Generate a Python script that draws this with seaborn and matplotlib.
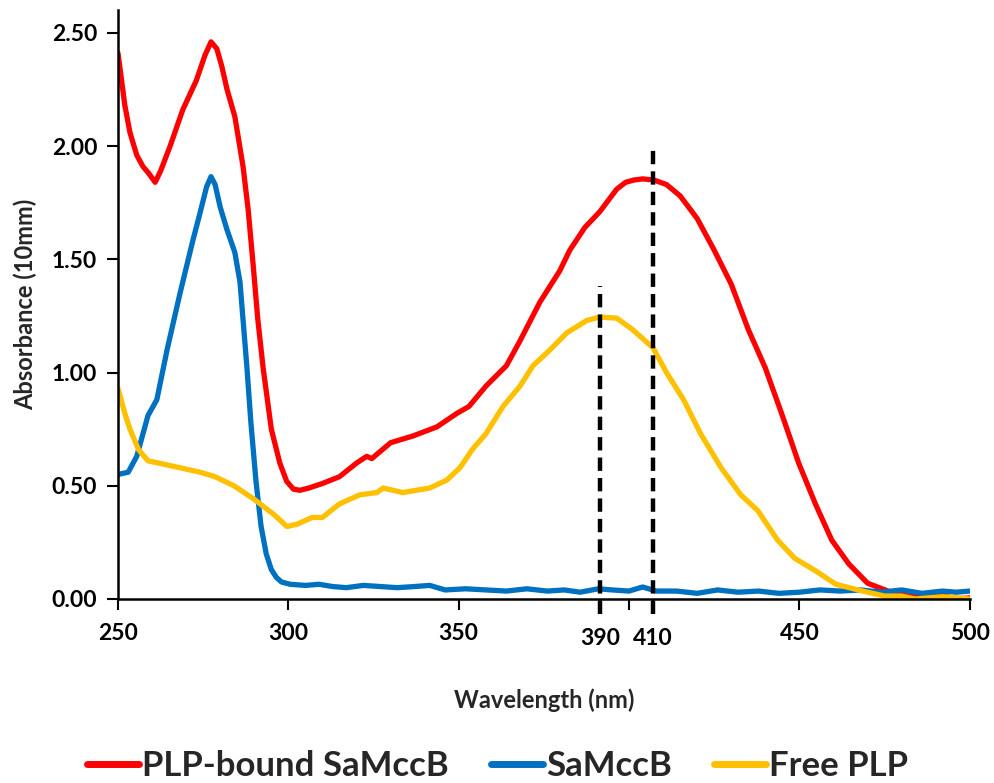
import numpy as np
import matplotlib.pyplot as plt
import seaborn as sns

# Wavelength (nm) / absorbance
plp_bound_wl = [250, 252, 253.5, 255.5, 257.3, 259, 260.9, 262.5, 265.3, 269, 273, 275.5, 277.3,
                279, 280.5, 282, 284.3, 286.7, 288.2, 289.7, 291, 292.6, 295, 297.5, 299.5,
                301.5, 303.4, 306, 310, 315, 320, 323, 324.5, 330, 336.6, 343.6, 349.5, 353,
                358, 364, 368, 373.8, 379.7, 382.6, 387, 391.4, 396.4, 399, 401.4, 404, 407.3,
                411, 415, 420, 425, 430, 435, 440, 445, 449.8, 454.7, 459.5, 464.5, 470, 476,
                482, 488, 492, 496, 500]
plp_bound_abs = [2.41, 2.18, 2.06, 1.96, 1.91, 1.88, 1.84, 1.89, 2.0, 2.16, 2.29, 2.40, 2.46,
                 2.43, 2.35, 2.25, 2.13, 1.91, 1.72, 1.47, 1.24, 1.02, 0.75, 0.60, 0.52,
                 0.485, 0.48, 0.49, 0.51, 0.54, 0.60, 0.63, 0.62, 0.69, 0.72, 0.76, 0.82, 0.85,
                 0.94, 1.03, 1.14, 1.31, 1.45, 1.54, 1.64, 1.71, 1.81, 1.84, 1.85, 1.855, 1.85,
                 1.83, 1.78, 1.68, 1.54, 1.39, 1.19, 1.02, 0.81, 0.60, 0.42, 0.26, 0.155,
                 0.07, 0.035, 0.013, 0.01, 0.015, 0.0, 0.005]

samccb_wl = [250, 253, 255.5, 258.8, 261.4, 264.4, 268.2, 272, 274, 276, 277.3, 278.5, 280,
             282, 284.3, 285.8, 287.8, 289, 290.5, 292, 293.5, 295, 296.5, 298, 300.5, 305, 309,
             313, 317, 322, 327, 332, 337, 341.5, 346, 352, 358, 364, 370, 376, 381, 385.6,
             391, 395, 400, 404, 408, 414, 420, 426, 432, 438, 444, 450, 456, 462, 468, 474,
             480, 486, 492, 496, 500]
samccb_abs = [0.55, 0.56, 0.63, 0.81, 0.88, 1.10, 1.35, 1.585, 1.70, 1.82, 1.865, 1.83, 1.73,
              1.63, 1.53, 1.40, 1.03, 0.78, 0.52, 0.32, 0.20, 0.13, 0.095, 0.075, 0.065, 0.06,
              0.065, 0.055, 0.05, 0.06, 0.055, 0.05, 0.055, 0.06, 0.04, 0.045, 0.04, 0.035,
              0.045, 0.035, 0.04, 0.03, 0.045, 0.04, 0.035, 0.053, 0.035, 0.035, 0.025, 0.04,
              0.03, 0.035, 0.025, 0.03, 0.04, 0.035, 0.04, 0.03, 0.04, 0.025, 0.035, 0.03, 0.035]

free_plp_wl = [250, 252, 253.5, 256, 258.8, 262, 268, 274, 278.5, 284, 290, 296, 299.6, 302.5,
               307, 310, 315, 321, 326, 327.8, 333.6, 341.5, 346.5, 350.4, 354, 358, 363, 368,
               371.8, 376.8, 381.7, 387.6, 391.4, 396.4, 401, 407, 411, 416, 421, 427, 432.8,
               437.8, 443.6, 448.6, 454.7, 460.7, 468.6, 475, 480, 484, 488, 492, 497, 500]
free_plp_abs = [0.93, 0.82, 0.75, 0.66, 0.61, 0.60, 0.58, 0.56, 0.54, 0.50, 0.44, 0.37, 0.32,
                0.33, 0.36, 0.36, 0.42, 0.46, 0.47, 0.49, 0.47, 0.49, 0.525, 0.58, 0.66, 0.73,
                0.85, 0.94, 1.03, 1.10, 1.175, 1.23, 1.245, 1.24, 1.19, 1.11, 1.00, 0.88, 0.73,
                0.58, 0.46, 0.39, 0.26, 0.18, 0.125, 0.065, 0.035, 0.013, 0.013, 0.0, 0.005,
                0.01, 0.005, 0.0]

series_names = ['PLP-bound SaMccB', 'SaMccB', 'Free PLP']
series_colors = ['#FF0000', '#0070C0', '#FFC000']

# dashed markers for the absorbance maxima
marker_wl = [391.5, 407]
marker_top = [1.38, 2.01]

xtick_pos = [250, 300, 350, 391.5, 400, 407, 450, 500]
xtick_lab = ['250', '300', '350', '390', '', '410', '450', '500']
ytick_pos = [0, 0.5, 1.0, 1.5, 2.0, 2.5]

sns.set_style('ticks')
plt.rcParams['font.family'] = ['Lato', 'DejaVu Sans']
plt.rcParams['font.weight'] = 'bold'

fig = plt.figure(figsize=(9.95, 7.83), dpi=100)
ax = fig.add_axes([0.1186, 0.235, 0.856, 0.752])

all_wl = [plp_bound_wl, samccb_wl, free_plp_wl]
all_abs = [plp_bound_abs, samccb_abs, free_plp_abs]
for wl, ab, name, col in zip(all_wl, all_abs, series_names, series_colors):
    sns.lineplot(x=wl, y=ab, color=col, linewidth=3.8, label=name, ax=ax,
                 sort=False, solid_capstyle='round', solid_joinstyle='round')

ax.vlines(marker_wl, -0.065, marker_top, colors='black', linestyles=(0, (3, 1.6)),
          linewidth=3.2, clip_on=False, zorder=5)

ax.set_xlim(250, 500)
ax.set_ylim(0, 2.6)
ax.set_xticks(xtick_pos)
ax.set_xticklabels(xtick_lab)
ax.set_yticks(ytick_pos)
ax.set_yticklabels([f'{v:.2f}' for v in ytick_pos])
ax.tick_params(axis='both', direction='out', length=8, width=1.5, labelsize=16.5, colors='black')
ax.tick_params(axis='x', pad=9)
ax.tick_params(axis='y', pad=7)
for i in (3, 5):
    ax.xaxis.get_major_ticks()[i].set_pad(13)

for s in ['top', 'right']:
    ax.spines[s].set_visible(False)
for s in ['left', 'bottom']:
    ax.spines[s].set_linewidth(1.8)
    ax.spines[s].set_color('black')

ax.set_xlabel('Wavelength (nm)', fontsize=17, fontweight='bold', labelpad=28)
ax.set_ylabel('Absorbance (10mm)', fontsize=17, fontweight='bold', labelpad=10)

leg = ax.legend(loc='center', bbox_to_anchor=(0.5, 0.022), bbox_transform=fig.transFigure,
                ncol=3, frameon=False, fontsize=25, handlelength=1.5, handletextpad=0.1,
                columnspacing=1.2)
for line in leg.get_lines():
    line.set_linewidth(5)
for t in leg.get_texts():
    t.set_fontweight('bold')

fig.savefig('out.png', dpi=100)
